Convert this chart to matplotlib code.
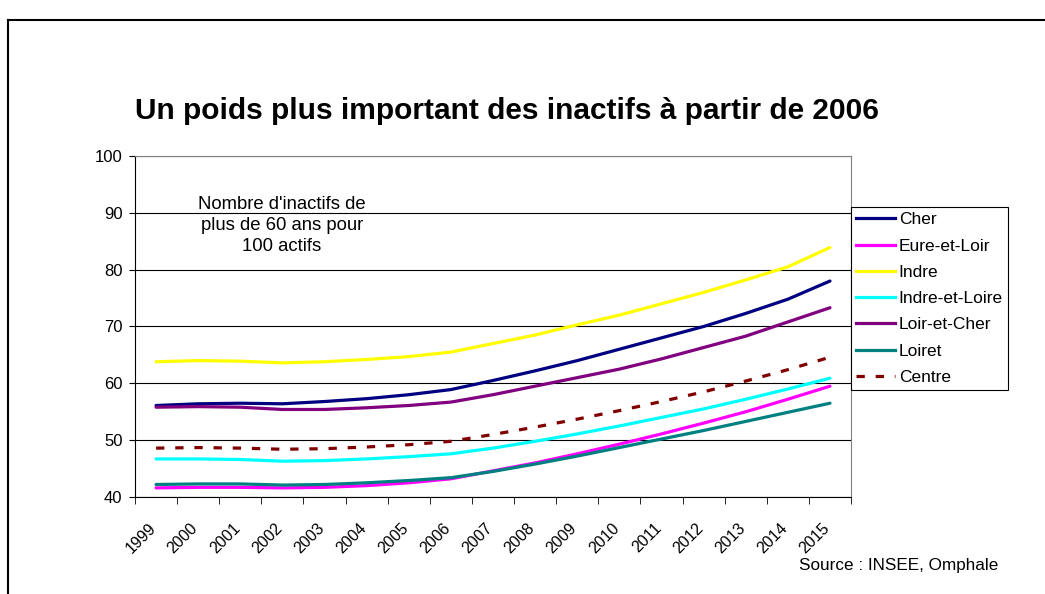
import matplotlib.pyplot as plt
from matplotlib.lines import Line2D
from matplotlib.transforms import ScaledTranslation

plt.rcParams['font.family'] = ['Liberation Sans', 'DejaVu Sans']

years = [str(y) for y in range(1999, 2016)]

cher = [56.1, 56.4, 56.5, 56.4, 56.8, 57.3, 58.0, 58.9, 60.5, 62.2, 64.0, 66.0, 68.0, 70.0, 72.3, 74.8, 78.0]
eure_et_loir = [41.6, 41.7, 41.7, 41.6, 41.7, 42.0, 42.5, 43.2, 44.6, 46.0, 47.6, 49.3, 51.1, 53.0, 55.0, 57.2, 59.5]
indre = [63.8, 64.0, 63.9, 63.6, 63.8, 64.2, 64.7, 65.5, 67.0, 68.5, 70.3, 72.0, 74.0, 76.0, 78.2, 80.5, 83.9]
indre_et_loire = [46.7, 46.7, 46.6, 46.3, 46.4, 46.7, 47.1, 47.6, 48.6, 49.8, 51.1, 52.5, 54.0, 55.5, 57.2, 59.0, 60.9]
loir_et_cher = [55.8, 55.9, 55.8, 55.4, 55.4, 55.7, 56.1, 56.7, 58.0, 59.5, 61.0, 62.5, 64.3, 66.3, 68.3, 70.8, 73.3]
loiret = [42.2, 42.3, 42.3, 42.1, 42.2, 42.5, 42.9, 43.4, 44.5, 45.8, 47.2, 48.7, 50.2, 51.7, 53.3, 54.9, 56.5]
centre = [48.6, 48.7, 48.6, 48.4, 48.5, 48.8, 49.2, 49.8, 51.0, 52.3, 53.7, 55.2, 56.8, 58.5, 60.4, 62.4, 64.6]

series = [
    ("Cher", cher, "#000080", "-"),
    ("Eure-et-Loir", eure_et_loir, "#ff00ff", "-"),
    ("Indre", indre, "#ffff00", "-"),
    ("Indre-et-Loire", indre_et_loire, "#00ffff", "-"),
    ("Loir-et-Cher", loir_et_cher, "#800080", "-"),
    ("Loiret", loiret, "#008080", "-"),
    ("Centre", centre, "#800000", (0, (2.6, 3.4))),
]

fig = plt.figure(figsize=(10.45, 5.94), dpi=100)
ax = fig.add_axes([0.1292, 0.1633, 0.6852, 0.5741])

x = list(range(len(years)))
for name, vals, col, ls in series:
    ax.plot(x, vals, color=col, lw=2.3, ls=ls, label=name,
            solid_capstyle="round", solid_joinstyle="round")

ax.set_xlim(-0.5, len(years) - 0.5)
ax.set_ylim(40, 100)
ax.set_yticks(range(40, 101, 10))
ax.yaxis.grid(True, color="black", lw=0.8)
ax.set_axisbelow(True)

ax.set_xticks(x)
ax.set_xticklabels(years, rotation=45, ha="right", rotation_mode="anchor", fontsize=11.5)
ax.set_xticks([i - 0.5 for i in range(len(years) + 1)], minor=True)
ax.tick_params(axis="x", which="major", length=0, pad=17)
ax.tick_params(axis="x", which="minor", length=5, direction="out", color="black")
ax.tick_params(axis="y", length=4, direction="out", labelsize=12, pad=5)
shift = ScaledTranslation(-8 / 100, 0, fig.dpi_scale_trans)
for lab in ax.get_xticklabels():
    lab.set_transform(lab.get_transform() + shift)

for s in ["top", "right"]:
    ax.spines[s].set_color("#808080")
for s in ["left", "bottom"]:
    ax.spines[s].set_color("black")

handles = [Line2D([0], [0], color=c, lw=2.3, ls=l) for _, _, c, l in series]
leg = fig.legend(handles, [s[0] for s in series], loc="upper left",
                 bbox_to_anchor=(0.8144, 0.6515), fontsize=12.5, frameon=True,
                 fancybox=False, edgecolor="black", framealpha=1,
                 handlelength=2.25, handletextpad=0.2, labelspacing=0.64,
                 borderpad=0.3, borderaxespad=0)
leg.get_frame().set_linewidth(0.8)

fig.text(0.485, 0.813, "Un poids plus important des inactifs à partir de 2006",
         ha="center", va="center", fontsize=21.5, fontweight="bold")
ax.text(0.205, 0.795, "Nombre d'inactifs de\nplus de 60 ans pour\n100 actifs",
        transform=ax.transAxes, ha="center", va="center", fontsize=13.3, linespacing=1.3)
fig.text(0.765, 0.048, "Source : INSEE, Omphale", ha="left", va="center", fontsize=12.3)

# outer frame
fig.add_artist(Line2D([0.0077, 0.0077], [0, 0.966], color="black", lw=1.5))
fig.add_artist(Line2D([0.0077, 1], [0.966, 0.966], color="black", lw=1.5))

fig.savefig("out.png", dpi=100)
